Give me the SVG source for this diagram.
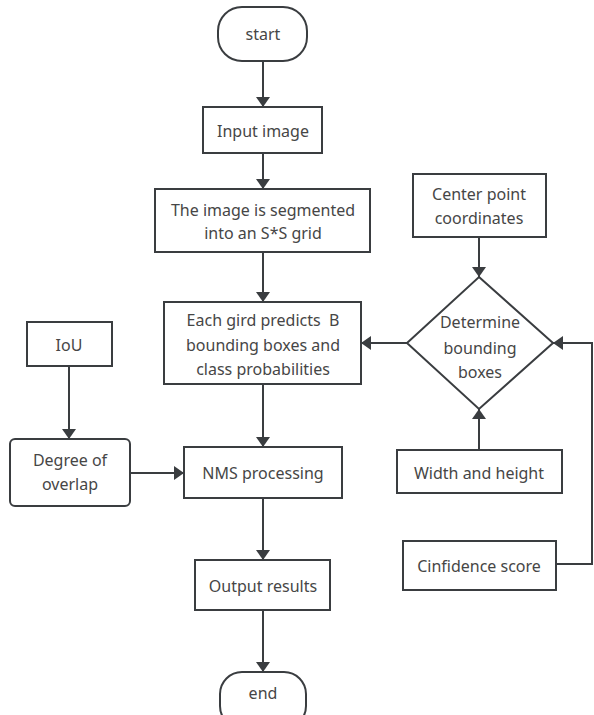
<svg xmlns="http://www.w3.org/2000/svg" width="594" height="715" viewBox="0 0 594 715">
<style>
.box{fill:#fff;stroke:#3a3d40;stroke-width:2}
.t{font-family:"Noto Sans","Open Sans",sans-serif;font-size:16px;fill:#464646;text-anchor:middle;dominant-baseline:central;white-space:pre}
.c{fill:none;stroke:#3a3d40;stroke-width:2}
</style>
<defs>
<marker id="ah" markerWidth="10" markerHeight="14" refX="10" refY="7" orient="auto" markerUnits="userSpaceOnUse" viewBox="0 0 10 14">
<path d="M0,0 L10,7 L0,14 Z" fill="#3a3d40"/>
</marker>
</defs>
<rect width="594" height="715" fill="#fff"/>
<g id="connectors">
<line class="c" x1="263" y1="61" x2="263" y2="107" marker-end="url(#ah)"/>
<line class="c" x1="263" y1="153" x2="263" y2="189" marker-end="url(#ah)"/>
<line class="c" x1="263" y1="252" x2="263" y2="302" marker-end="url(#ah)"/>
<line class="c" x1="263" y1="384" x2="263" y2="447" marker-end="url(#ah)"/>
<line class="c" x1="263" y1="498" x2="263" y2="560" marker-end="url(#ah)"/>
<line class="c" x1="263" y1="610" x2="263" y2="672" marker-end="url(#ah)"/>
<line class="c" x1="69" y1="366" x2="69" y2="439" marker-end="url(#ah)"/>
<line class="c" x1="130" y1="473" x2="184" y2="473" marker-end="url(#ah)"/>
<line class="c" x1="479" y1="237" x2="479" y2="277" marker-end="url(#ah)"/>
<line class="c" x1="479" y1="450" x2="479" y2="409" marker-end="url(#ah)"/>
<line class="c" x1="407" y1="343" x2="361" y2="343" marker-end="url(#ah)"/>
<polyline class="c" points="556,564 592,564 592,343 553,343" marker-end="url(#ah)"/>
</g>
<g id="start"><rect class="box" x="218" y="7" width="89" height="54" rx="24"/><text class="t" x="263" y="34">start</text></g>
<g id="input"><rect class="box" x="203" y="107" width="119" height="46"/><text class="t" x="263" y="131">Input image</text></g>
<g id="segment"><rect class="box" x="155" y="189" width="215" height="63"/><text class="t" x="263" y="210">The image is segmented</text><text class="t" x="263" y="233">into an S*S grid</text></g>
<g id="predict"><rect class="box" x="164" y="302" width="197" height="82"/><text class="t" x="263" y="320" xml:space="preserve">Each gird predicts  B</text><text class="t" x="263" y="345">bounding boxes and</text><text class="t" x="263" y="369">class probabilities</text></g>
<g id="iou"><rect class="box" x="27" y="322" width="85" height="44"/><text class="t" x="69" y="345">IoU</text></g>
<g id="overlap"><rect class="box" x="10" y="439" width="120" height="67" rx="5"/><text class="t" x="70" y="460">Degree of</text><text class="t" x="70" y="484">overlap</text></g>
<g id="nms"><rect class="box" x="184" y="447" width="158" height="51"/><text class="t" x="263" y="473">NMS processing</text></g>
<g id="output"><rect class="box" x="195" y="560" width="135" height="50"/><text class="t" x="263" y="586">Output results</text></g>
<g id="end"><rect class="box" x="220" y="672" width="86" height="56" rx="22"/><text class="t" x="263" y="693">end</text></g>
<g id="center"><rect class="box" x="413" y="174" width="133" height="63"/><text class="t" x="479" y="194">Center point</text><text class="t" x="479" y="218">coordinates</text></g>
<g id="determine"><polygon class="box" points="479,277 553,343 479,409 407,343"/><text class="t" x="480" y="322">Determine</text><text class="t" x="480" y="348">bounding</text><text class="t" x="480" y="372">boxes</text></g>
<g id="width"><rect class="box" x="397" y="450" width="165" height="43"/><text class="t" x="479" y="473">Width and height</text></g>
<g id="confidence"><rect class="box" x="403" y="541" width="153" height="49"/><text class="t" x="479" y="566">Cinfidence score</text></g>
</svg>
